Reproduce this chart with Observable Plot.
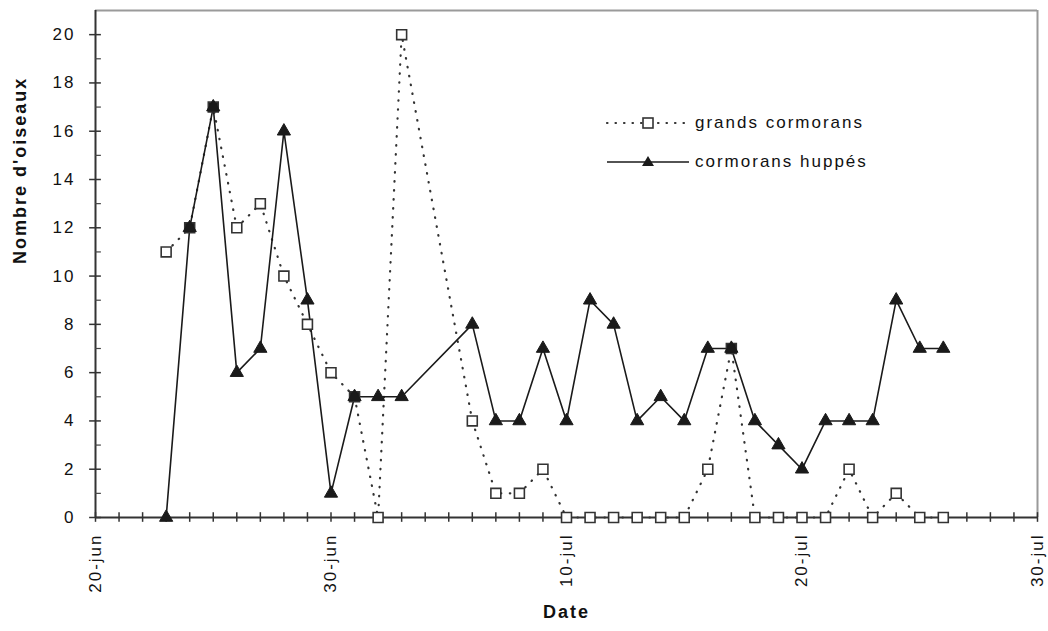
<!DOCTYPE html>
<html>
<head>
<meta charset="utf-8">
<script src="https://cdn.jsdelivr.net/npm/d3@7"></script>
<script src="https://cdn.jsdelivr.net/npm/@observablehq/plot@0.6"></script>
<style>
  body { margin: 0; background: #fff; font-family: "Liberation Sans", Arial, sans-serif; }
  #wrap { position: relative; width: 1048px; height: 631px; }
  #wrap svg text { letter-spacing: 2px; }
  .lg-row { position: absolute; left: 604px; height: 20px; display: flex; align-items: center;
            font-size: 17px; letter-spacing: 2px; color: #111; white-space: nowrap; }
  .lg-row svg { display: block; margin-right: 3px; }
</style>
</head>
<body>
<div id="wrap"></div>
<script>
// ---- data ----
const dates = [
  "2000-06-23","2000-06-24","2000-06-25","2000-06-26","2000-06-27","2000-06-28","2000-06-29","2000-06-30",
  "2000-07-01","2000-07-02","2000-07-03","2000-07-06","2000-07-07","2000-07-08","2000-07-09","2000-07-10",
  "2000-07-11","2000-07-12","2000-07-13","2000-07-14","2000-07-15","2000-07-16","2000-07-17","2000-07-18",
  "2000-07-19","2000-07-20","2000-07-21","2000-07-22","2000-07-23","2000-07-24","2000-07-25","2000-07-26"
];
const grandsCormorans = [11,12,17,12,13,10,8,6, 5,0,20,4,1,1,2,0, 0,0,0,0,0,2,7,0, 0,0,0,2,0,1,0,0];
const cormoransHuppes = [0,12,17,6,7,16,9,1, 5,5,5,8,4,4,7,4, 9,8,4,5,4,7,7,4, 3,2,4,4,4,9,7,7];
const seriesNames = ["grands cormorans", "cormorans huppés"];
const xTickDates = ["2000-06-20","2000-06-30","2000-07-10","2000-07-20","2000-07-30"];
const xTickLabels = ["20-jun","30-jun","10-jul","20-jul","30-jul"];
const yTickValues = [0,2,4,6,8,10,12,14,16,18,20];
const yMinorValues = [1,3,5,7,9,11,13,15,17,19];
const yMax = 21;
const xTitle = "Date";
const yTitle = "Nombre d'oiseaux";

// ---- build ----
const D = s => new Date(s + "T00:00:00Z");
const xStart = D(xTickDates[0]);
const xEnd = D(xTickDates[xTickDates.length - 1]);
const rows = dates.map((d, i) => ({date: D(d), grands: grandsCormorans[i], huppes: cormoransHuppes[i]}));
const days = d3.utcDay.range(xStart, d3.utcDay.offset(xEnd, 1));
const labelMap = new Map(xTickDates.map((d, i) => [+D(d), xTickLabels[i]]));
const H = 3600e3; // one hour in ms (~1px on this x scale)

const ink = "#1a1a1a";
const chart = Plot.plot({
  width: 1048,
  height: 631,
  marginLeft: 95,
  marginRight: 11,
  marginTop: 10,
  marginBottom: 114,
  style: {fontFamily: "'Liberation Sans', Arial, sans-serif", fontSize: "17px", color: "#111", background: "white", overflow: "visible"},
  x: {type: "utc", domain: [xStart, xEnd]},
  y: {domain: [0, yMax]},
  marks: [
    // plot-area border (top and right)
    Plot.ruleY([yMax], {stroke: "#9a9a9a", strokeWidth: 2}),
    Plot.ruleX([xEnd], {stroke: "#9a9a9a", strokeWidth: 2}),
    // series lines
    Plot.line(rows, {x: "date", y: "grands", stroke: "#333", strokeWidth: 2.2, strokeDasharray: "0.5,8.5", strokeLinecap: "round"}),
    Plot.line(rows, {x: "date", y: "huppes", stroke: ink, strokeWidth: 1.6}),
    // axes lines
    Plot.ruleY([0], {stroke: "#333", strokeWidth: 2}),
    Plot.ruleX([xStart], {stroke: "#333", strokeWidth: 2}),
    // x day ticks (crossing the axis)
    Plot.ruleX(days, {x: d => d, y1: -0.2, y2: 0.2, stroke: "#333", strokeWidth: 1.5}),
    // y ticks
    Plot.ruleY(yTickValues, {y: d => d, x1: () => new Date(+xStart - 6 * H), x2: () => new Date(+xStart + 6 * H), stroke: "#333", strokeWidth: 1.5}),
    Plot.ruleY(yMinorValues, {y: d => d, x1: () => xStart, x2: () => new Date(+xStart + 6 * H), stroke: "#444", strokeWidth: 1.2}),
    // markers (a square hidden under a triangle of the same value reads as a dark square)
    Plot.dot(rows, {x: "date", y: "grands", symbol: "square", r: 5.6, fill: d => d.grands === d.huppes ? ink : "white", stroke: "#333", strokeWidth: 1.6}),
    Plot.dot(rows, {x: "date", y: "huppes", symbol: "triangle", r: 4.9, fill: ink, stroke: ink, strokeWidth: 1}),
    // tick labels
    Plot.axisY({ticks: yTickValues, tickSize: 0, tickPadding: 20, label: null, fontSize: 17}),
    Plot.axisX({ticks: xTickDates.map(D), tickSize: 0, tickPadding: 16, tickRotate: -90, tickFormat: d => labelMap.get(+d), label: null, fontSize: 17}),
    // axis titles
    Plot.text([yTitle], {frameAnchor: "left", dx: -75, rotate: -90, fontWeight: "bold", fontSize: 18}),
    Plot.text([xTitle], {frameAnchor: "bottom", dy: 100, fontWeight: "bold", fontSize: 18})
  ]
});

const wrap = document.getElementById("wrap");
wrap.appendChild(chart);

// legend (HTML overlay inside the plot area)
const legendRows = [
  {name: seriesNames[0], top: 113, svg: `<svg width="88" height="20"><line x1="3" y1="10" x2="85" y2="10" stroke="#333" stroke-width="2.2" stroke-dasharray="0.5,8" stroke-linecap="round"/><rect x="39" y="5" width="10" height="10" fill="white" stroke="#333" stroke-width="1.6"/></svg>`},
  {name: seriesNames[1], top: 152, svg: `<svg width="88" height="20"><line x1="3" y1="10" x2="85" y2="10" stroke="${ink}" stroke-width="1.6"/><path d="M44,4 L50,14 L38,14 Z" fill="${ink}"/></svg>`}
];
for (const r of legendRows) {
  const div = document.createElement("div");
  div.className = "lg-row";
  div.style.top = r.top + "px";
  div.innerHTML = r.svg + `<span>${r.name}</span>`;
  wrap.appendChild(div);
}
</script>
</body>
</html>
